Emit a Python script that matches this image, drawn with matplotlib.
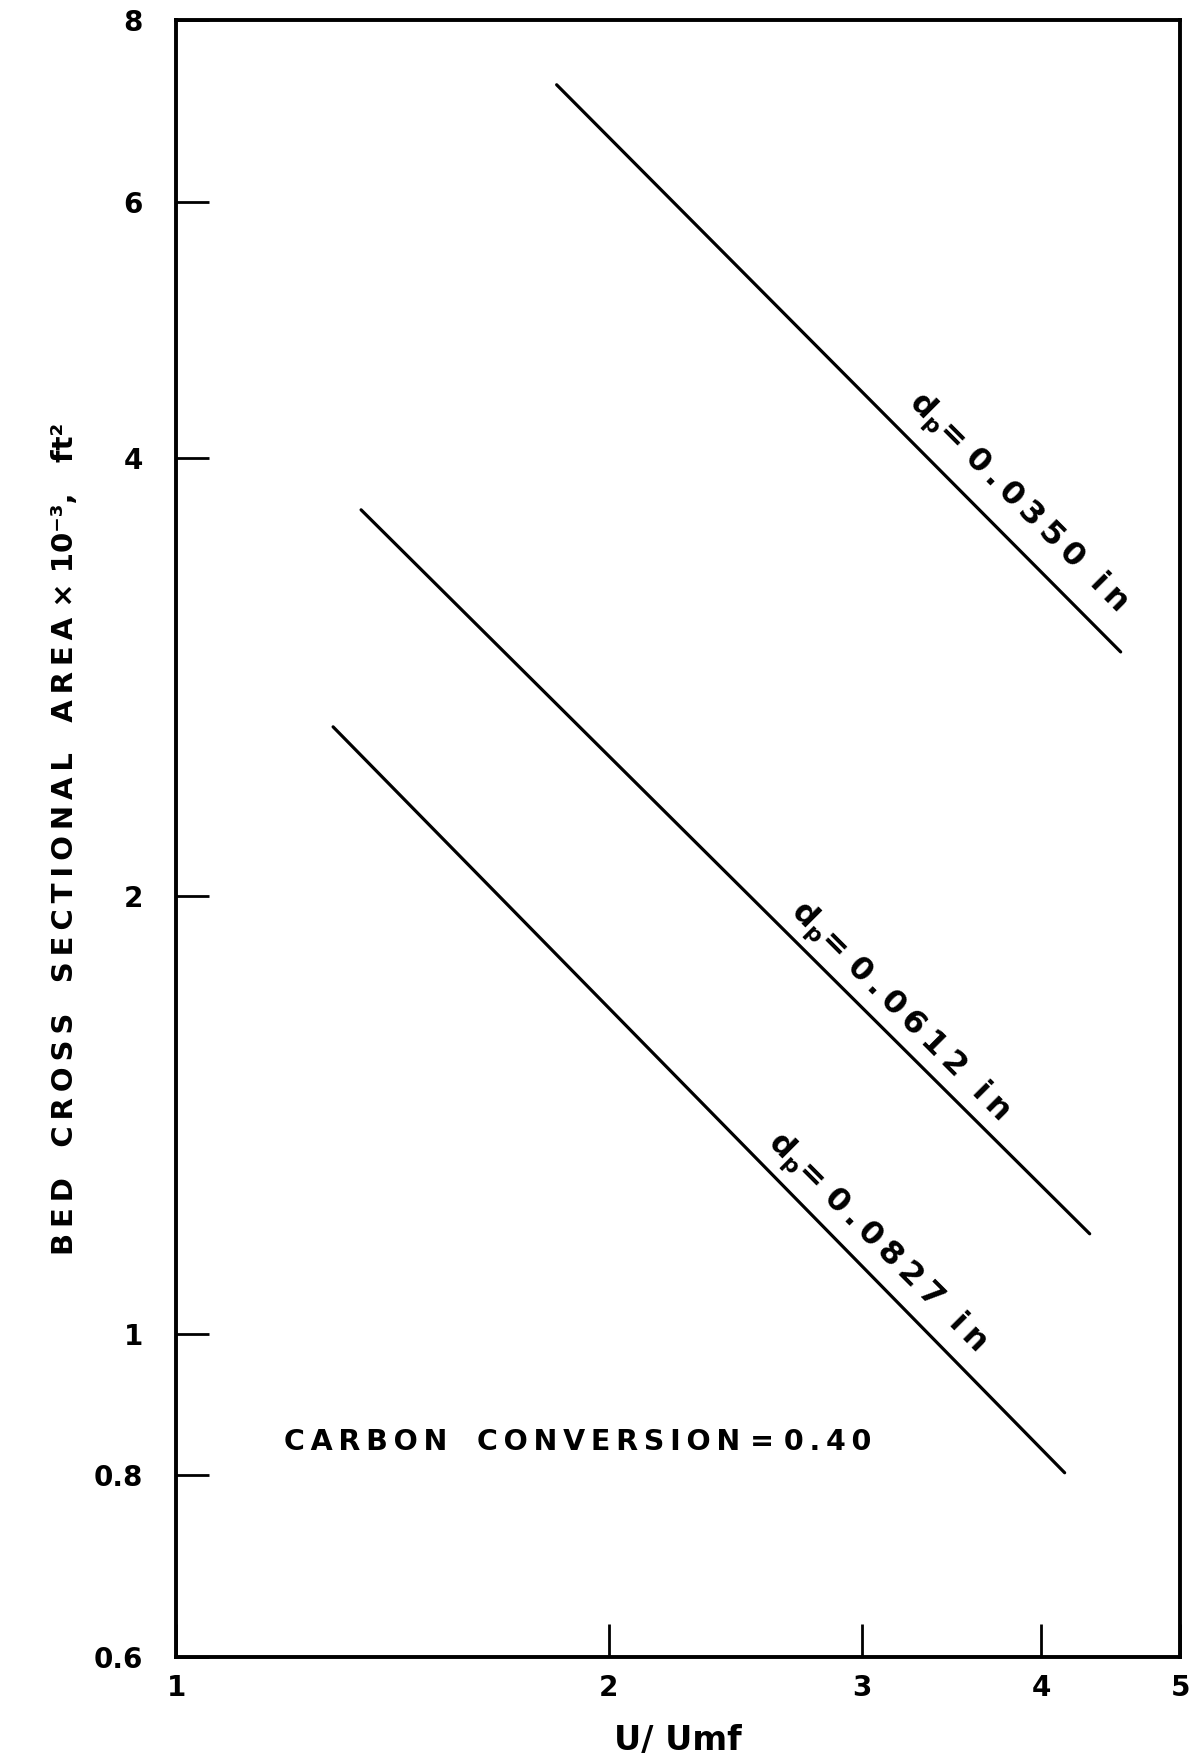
import numpy as np
import matplotlib
matplotlib.use('Agg')
import matplotlib.pyplot as plt
from matplotlib.ticker import FixedLocator, FixedFormatter, NullLocator

# Bed area vs. U/Umf for three particle sizes (carbon conversion = 0.40)
labels = ['0.0350', '0.0612', '0.0827']
u_ratio = [[1.840, 4.543], [1.345, 4.323], [1.286, 4.153]]
bed_area = [[7.22, 2.943], [3.685, 1.172], [2.614, 0.803]]
label_pos = [(3.852, 3.725), (3.188, 1.665), (3.073, 1.155)]

x_ticks = [1, 2, 3, 4, 5]
x_ticklabels = ['1', '2', '3', '4', '5']
y_ticks = [0.6, 0.8, 1, 2, 4, 6, 8]
y_ticklabels = ['0.6', '0.8', '1', '2', '4', '6', '8']

THIN = '\u2009'

def spaced(s):
    # wide letter spacing like the old lettering-guide text
    return THIN.join(s)

plt.rcParams['font.family'] = 'DejaVu Sans'
plt.rcParams['font.weight'] = 'bold'
plt.rcParams['mathtext.fontset'] = 'dejavusans'
plt.rcParams['mathtext.default'] = 'bf'

fig = plt.figure(figsize=(11.9, 17.64), dpi=100)
ax = fig.add_axes([0.148, 0.0607, 0.844, 0.928])

ax.set_xscale('log')
ax.set_yscale('log')
ax.set_xlim(1, 5)
ax.set_ylim(0.6, 8)

for xs, ys in zip(u_ratio, bed_area):
    ax.plot(xs, ys, color='black', lw=2.3, solid_capstyle='round')

for lab, (lx, ly) in zip(labels, label_pos):
    ax.text(lx, ly, r'd$_p$= ' + spaced(lab) + '  ' + spaced('in'),
            fontsize=23, rotation=-45, rotation_mode='anchor',
            ha='center', va='center')

ax.text(1.904, 0.843, spaced('CARBON') + '   ' + spaced('CONVERSION') + ' = ' + spaced('0.40'),
        fontsize=20.5, ha='center', va='center')

ax.xaxis.set_major_locator(FixedLocator(x_ticks))
ax.xaxis.set_major_formatter(FixedFormatter(x_ticklabels))
ax.xaxis.set_minor_locator(NullLocator())
ax.yaxis.set_major_locator(FixedLocator(y_ticks))
ax.yaxis.set_major_formatter(FixedFormatter(y_ticklabels))
ax.yaxis.set_minor_locator(NullLocator())

ax.tick_params(axis='both', direction='in', length=24, width=2, labelsize=20)
ax.tick_params(axis='x', pad=12)
ax.tick_params(axis='y', pad=24)

for sp in ax.spines.values():
    sp.set_linewidth(2.8)

ax.set_xlabel('U/ Umf', fontsize=24, fontweight='bold', labelpad=16)
ylab = (spaced('BED') + '   ' + spaced('CROSS') + '   ' + spaced('SECTIONAL') + '   '
        + spaced('AREA') + ' × 10⁻³,   ft²')
ax.set_ylabel(ylab, fontsize=21, fontweight='bold')
ax.yaxis.set_label_coords(-0.097, 0.50)

fig.savefig('out.png', dpi=100)
